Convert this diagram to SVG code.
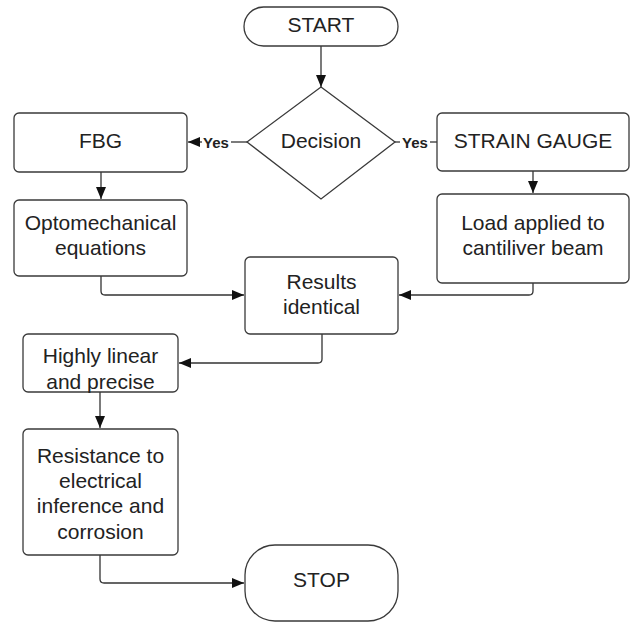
<svg xmlns="http://www.w3.org/2000/svg" width="632" height="623" viewBox="0 0 632 623">
<defs>
<style>
.box{fill:#fff;stroke:#3a3a3a;stroke-width:1.3}
.t{font-family:"Liberation Sans",Arial,sans-serif;font-size:21px;fill:#222;text-anchor:middle}
.y{font-family:"Liberation Sans",Arial,sans-serif;font-size:15px;font-weight:bold;fill:#222;text-anchor:middle}
.c{fill:none;stroke:#333;stroke-width:1.3}
</style>
<marker id="ah" markerUnits="userSpaceOnUse" markerWidth="12" markerHeight="10" refX="12" refY="5" orient="auto">
<path d="M0,0 L12,5 L0,10 z" fill="#111"/>
</marker>
</defs>
<rect width="632" height="623" fill="#fff"/>
<g id="connectors">
<path class="c" d="M321,46 V87" marker-end="url(#ah)"/>
<path class="c" d="M247,142 H231"/>
<path class="c" d="M202,142 H188" marker-end="url(#ah)"/>
<text class="y" x="216" y="147.5">Yes</text>
<path class="c" d="M395,142 H400"/>
<text class="y" x="415" y="147.5">Yes</text>
<path class="c" d="M430,142 H437"/>
<path class="c" d="M101,172 V199" marker-end="url(#ah)"/>
<path class="c" d="M533,171 V193" marker-end="url(#ah)"/>
<path class="c" d="M101,276 V291 Q101,295 105,295 H244" marker-end="url(#ah)"/>
<path class="c" d="M533,283 V291 Q533,295 529,295 H399" marker-end="url(#ah)"/>
<path class="c" d="M322,334 V359 Q322,363 318,363 H179" marker-end="url(#ah)"/>
<path class="c" d="M100,392 V428" marker-end="url(#ah)"/>
<path class="c" d="M100,555 V579 Q100,583 104,583 H244" marker-end="url(#ah)"/>
</g>
<g id="start">
<rect class="box" x="244" y="7" width="154" height="39" rx="19.5"/>
<text class="t" x="321" y="31.5">START</text>
</g>
<g id="decision">
<polygon class="box" points="321,87 395,142 321,199 247,142"/>
<text class="t" x="321" y="147.5">Decision</text>
</g>
<g id="fbg">
<rect class="box" x="14" y="113" width="173" height="59" rx="5"/>
<text class="t" x="100.5" y="147.5">FBG</text>
</g>
<g id="strain">
<rect class="box" x="437" y="113" width="192" height="58" rx="5"/>
<text class="t" x="533" y="147.5">STRAIN GAUGE</text>
</g>
<g id="opto">
<rect class="box" x="14" y="200" width="173" height="76" rx="5"/>
<text class="t" x="100.5" y="230">Optomechanical</text>
<text class="t" x="100.5" y="255">equations</text>
</g>
<g id="load">
<rect class="box" x="437" y="194" width="192" height="89" rx="5"/>
<text class="t" x="533" y="230">Load applied to</text>
<text class="t" x="533" y="255">cantiliver beam</text>
</g>
<g id="results">
<rect class="box" x="245" y="257" width="153" height="77" rx="5"/>
<text class="t" x="321.5" y="289">Results</text>
<text class="t" x="321.5" y="314">identical</text>
</g>
<g id="highly">
<rect class="box" x="23" y="334" width="155" height="58" rx="5"/>
<text class="t" x="100.5" y="363">Highly linear</text>
<text class="t" x="100.5" y="389">and precise</text>
</g>
<g id="resistance">
<rect class="box" x="23" y="429" width="155" height="126" rx="5"/>
<text class="t" x="100.5" y="463">Resistance to</text>
<text class="t" x="100.5" y="488">electrical</text>
<text class="t" x="100.5" y="513">inference and</text>
<text class="t" x="100.5" y="539">corrosion</text>
</g>
<g id="stop">
<rect class="box" x="245" y="545" width="153" height="76" rx="30"/>
<text class="t" x="321.5" y="587">STOP</text>
</g>
</svg>
